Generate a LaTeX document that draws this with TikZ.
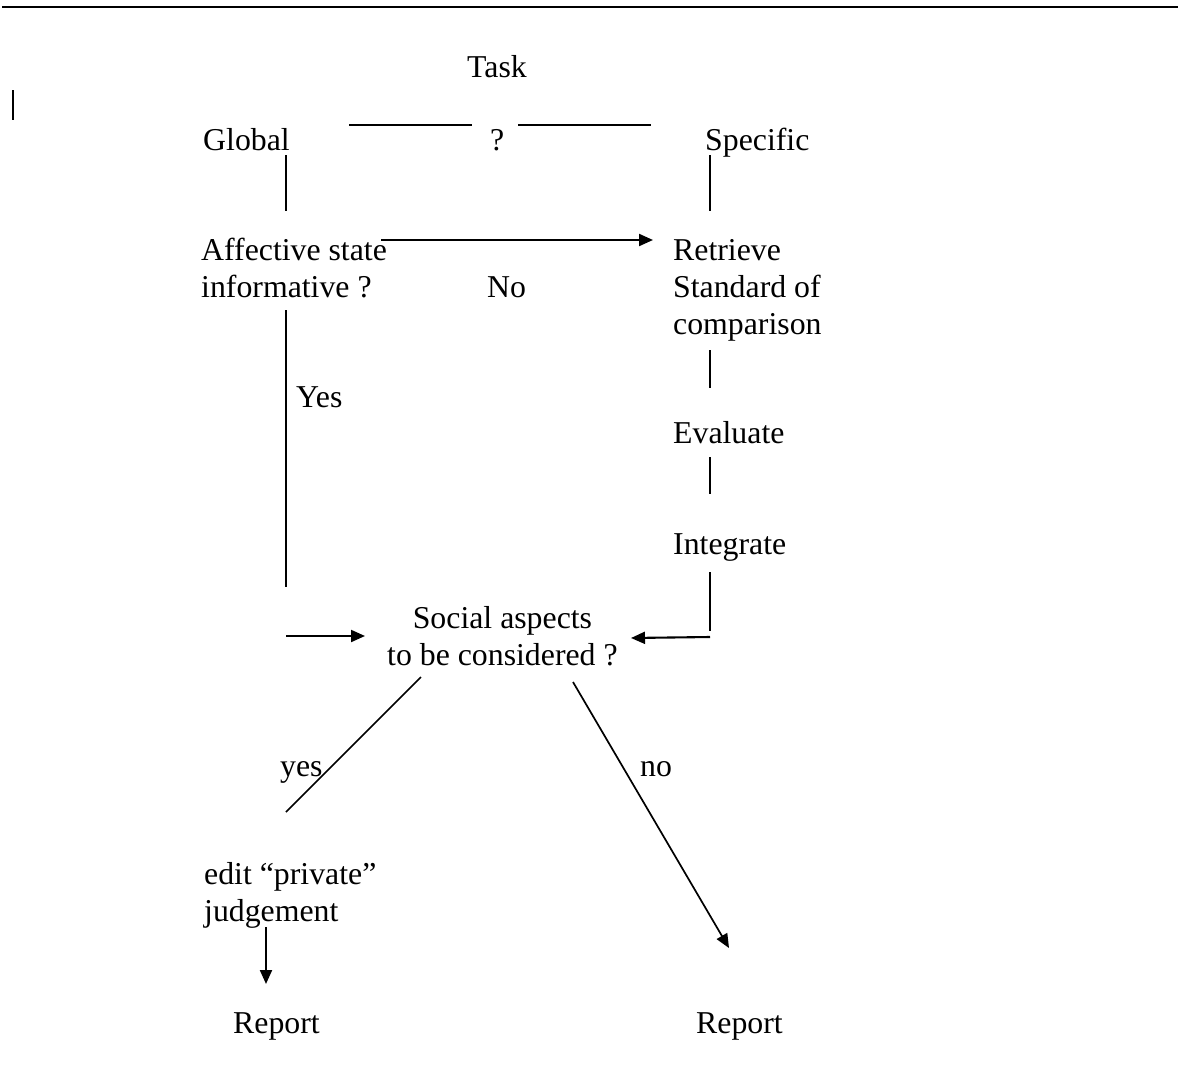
\documentclass[tikz,border=0pt]{standalone}
\usepackage{fontspec}
\setmainfont{Liberation Serif}
\usetikzlibrary{arrows.meta}
\tikzset{
  txt/.style={anchor=base west, inner sep=0pt, font=\fontsize{31.8}{37}\selectfont},
  bar/.style={line width=2.9pt},
  conn/.style={line width=2.1pt},
  diag/.style={line width=1.7pt},
  arr/.style={-{Triangle[length=14pt,width=12pt]}},
}
\begin{document}
\begin{tikzpicture}[x=1pt,y=-1pt]
\useasboundingbox (0,0) rectangle (1178,1071);
% top rule and stray bar
\coordinate (r1) at (2,7); \coordinate (r2) at (1178,7);
\draw[line width=2.6pt] (r1) -- (r2);
\coordinate (sb1) at (13,90); \coordinate (sb2) at (13,120);
\draw[line width=1.4pt] (sb1) -- (sb2);
% texts
\node[txt] (task) at (467,77) {Task};
\node[txt] (global) at (203,150) {Global};
\node[txt] (q) at (490,150) {?};
\node[txt] (specific) at (705,150) {Specific};
\node[txt] (affect) at (201,260) {\begin{tabular}[t]{@{}l@{}}Affective state\\informative ?\end{tabular}};
\node[txt] (no) at (487,297) {No};
\node[txt] (retrieve) at (673,260) {\begin{tabular}[t]{@{}l@{}}Retrieve\\Standard of\\comparison\end{tabular}};
\node[txt] (evaluate) at (673,443) {Evaluate};
\node[txt] (integrate) at (673,554) {Integrate};
\node[txt] (yes) at (296,407) {Yes};
\node[txt] (social) at (387,628) {\begin{tabular}[t]{@{}c@{}}Social aspects\\to be considered ?\end{tabular}};
\node[txt] (yes2) at (280,776) {yes};
\node[txt] (no2) at (640,776) {no};
\node[txt] (edit) at (204,884) {\begin{tabular}[t]{@{}l@{}}edit “private”\\judgement\end{tabular}};
\node[txt] (rep1) at (233,1033) {Report};
\node[txt] (rep2) at (696,1033) {Report};
% connector end points
\coordinate (tl1) at (349,125); \coordinate (tl2) at (472,125);
\coordinate (tr1) at (518,125); \coordinate (tr2) at (651,125);
\coordinate (g1) at (286,155); \coordinate (g2) at (286,211);
\coordinate (s1) at (710,155); \coordinate (s2) at (710,211);
\coordinate (a1) at (381,240); \coordinate (a2) at (653,240);
\coordinate (rv1) at (710,350); \coordinate (rv2) at (710,388);
\coordinate (e1) at (710,457); \coordinate (e2) at (710,494);
\coordinate (i1) at (710,572); \coordinate (i2) at (710,631);
\coordinate (i3) at (710,637); \coordinate (i4) at (631,638);
\coordinate (y1) at (286,310); \coordinate (y2) at (286,587);
\coordinate (y3) at (286,636); \coordinate (y4) at (365,636);
\coordinate (d1) at (421,677); \coordinate (d2) at (286,812);
\coordinate (n1) at (573,682); \coordinate (n2) at (729,948);
\coordinate (j1) at (266,927); \coordinate (j2) at (266,984);
% connectors
\draw[bar] (tl1) -- (tl2);
\draw[bar] (tr1) -- (tr2);
\draw[bar] (g1) -- (g2);
\draw[bar] (s1) -- (s2);
\draw[conn,arr] (a1) -- (a2);
\draw[bar] (rv1) -- (rv2);
\draw[bar] (e1) -- (e2);
\draw[bar] (i1) -- (i2);
\draw[conn,arr] (i3) -- (i4);
\draw[bar] (y1) -- (y2);
\draw[conn,arr] (y3) -- (y4);
\draw[diag] (d1) -- (d2);
\draw[diag,arr] (n1) -- (n2);
\draw[conn,arr] (j1) -- (j2);
\end{tikzpicture}
\end{document}
